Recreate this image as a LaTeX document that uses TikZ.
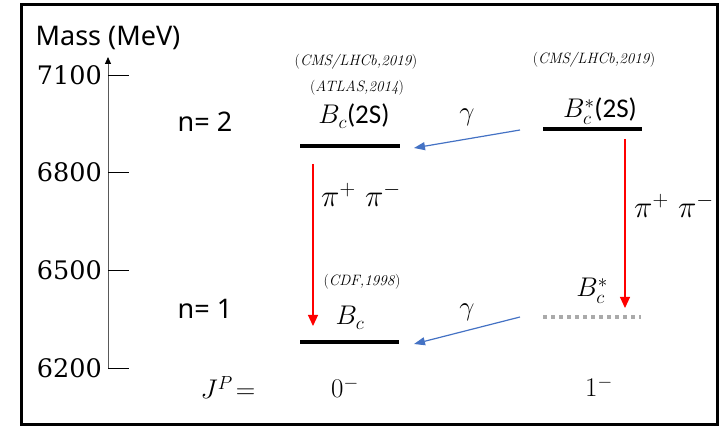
\RequirePackage{fix-cm}
\documentclass[tikz,border=0pt]{standalone}
\usepackage{fontspec}
\newfontfamily\sansf{Noto Sans}
\newfontfamily\numf{DejaVu Serif}
\newfontfamily\upf{Carlito}
\usetikzlibrary{arrows.meta}
\definecolor{arrblue}{HTML}{4472C4}
\definecolor{dotgray}{HTML}{AAAAAA}
\definecolor{arrred}{HTML}{FF0000}
\newcommand\fsz[1]{\fontsize{#1}{#1}\selectfont}
\begin{document}
\begin{tikzpicture}[x=1pt,y=-1pt,
  lvl/.style={line width=4pt},
  dotlvl/.style={line width=4pt,dotgray,dash pattern=on 4pt off 4pt},
  redarr/.style={draw=arrred,line width=1.1pt,-{Triangle[length=11pt,width=10pt,fill=arrred]}},
  bluearr/.style={draw=arrblue,line width=1.2pt,-{Triangle[length=11pt,width=8pt,fill=arrblue]}},
  tick/.style={line width=0.9pt},
  ticklab/.style={anchor=east,inner sep=0pt,font=\numf\fsz{25.5}},
  sanslab/.style={inner sep=0pt,font=\sansf\fsz{27}},
  ref/.style={inner sep=0pt,font=\fsz{15}},
  mathlab/.style={inner sep=0pt,font=\fsz{27}},
  pilab/.style={inner sep=0pt,font=\fsz{31}}]
\useasboundingbox (0,0) rectangle (724,427);
\draw[line width=3pt] (21.5,4.5) rectangle (717,424.5);
% axis
\coordinate (ax0) at (108,368);
\coordinate (ax1) at (108,57);
\draw[black!65,line width=1pt,-{Triangle[length=7pt,width=6pt,black]}] (ax0) -- (ax1);
\foreach \y/\m in {75/7100,172/6800,270/6500,368/6200}{
  \coordinate (tk\m) at (108,\y);
  \coordinate (tke\m) at (129,\y);
  \draw[tick] (tk\m) -- (tke\m);
  \node[ticklab] (lab\m) at (102,\y) {\m};
}
\node[sanslab] (mass) at (108,38) {Mass (MeV)};
\node[sanslab] (n2) at (205,122) {n= 2};
\node[sanslab] (n1) at (205,309) {n= 1};
% levels
\coordinate (bc2l) at (300,146); \coordinate (bc2r) at (400,146);
\coordinate (bs2l) at (543,129); \coordinate (bs2r) at (642,129);
\coordinate (bc1l) at (300,342); \coordinate (bc1r) at (399,342);
\coordinate (bs1l) at (543,317); \coordinate (bs1r) at (641,317);
\draw[lvl] (bc2l) -- (bc2r);
\draw[lvl] (bs2l) -- (bs2r);
\draw[lvl] (bc1l) -- (bc1r);
\draw[dotlvl] (bs1l) -- (bs1r);
% level labels
\node[mathlab,anchor=base] (Bc2) at (354,124) {$B_c$\upf\fsz{27}(2S)};
\node[mathlab,anchor=base] (Bs2) at (600,118) {$B_c^*$\upf\fsz{27}(2S)};
\node[mathlab,anchor=base] (Bc1) at (350,325) {$B_c$};
\node[mathlab,anchor=base] (Bs1) at (592,297) {$B_c^*$};
\node[ref] (r1) at (356,62) {(\textit{CMS/LHCb,2019})};
\node[ref] (r2) at (357,88) {(\textit{ATLAS,2014})};
\node[ref] (r3) at (594,60) {(\textit{CMS/LHCb,2019})};
\node[ref] (r4) at (362,282) {(\textit{CDF,1998})};
% transitions
\coordinate (p1s) at (313,164); \coordinate (p1e) at (313,326);
\coordinate (p2s) at (625,139); \coordinate (p2e) at (625,308);
\draw[redarr] (p1s) -- (p1e);
\draw[redarr] (p2s) -- (p2e);
\coordinate (g1s) at (520,130); \coordinate (g1e) at (414,148);
\coordinate (g2s) at (520,317); \coordinate (g2e) at (414,344);
\draw[bluearr] (g1s) -- (g1e);
\draw[bluearr] (g2s) -- (g2e);
\node[mathlab] (gam1) at (467,117) {$\gamma$};
\node[mathlab] (gam2) at (467,312) {$\gamma$};
\node[pilab,anchor=base west] (pi1) at (321,207) {$\pi^+\ \pi^-$};
\node[pilab,anchor=base west] (pi2) at (634,218) {$\pi^+\ \pi^-$};
% J^P
\node[mathlab,anchor=base] (jp) at (228,399) {$J^P\!=$};
\node[mathlab,anchor=base] (j0) at (345,398) {$0^-$};
\node[mathlab,anchor=base] (j1) at (599,397) {$1^-$};
\end{tikzpicture}
\end{document}
